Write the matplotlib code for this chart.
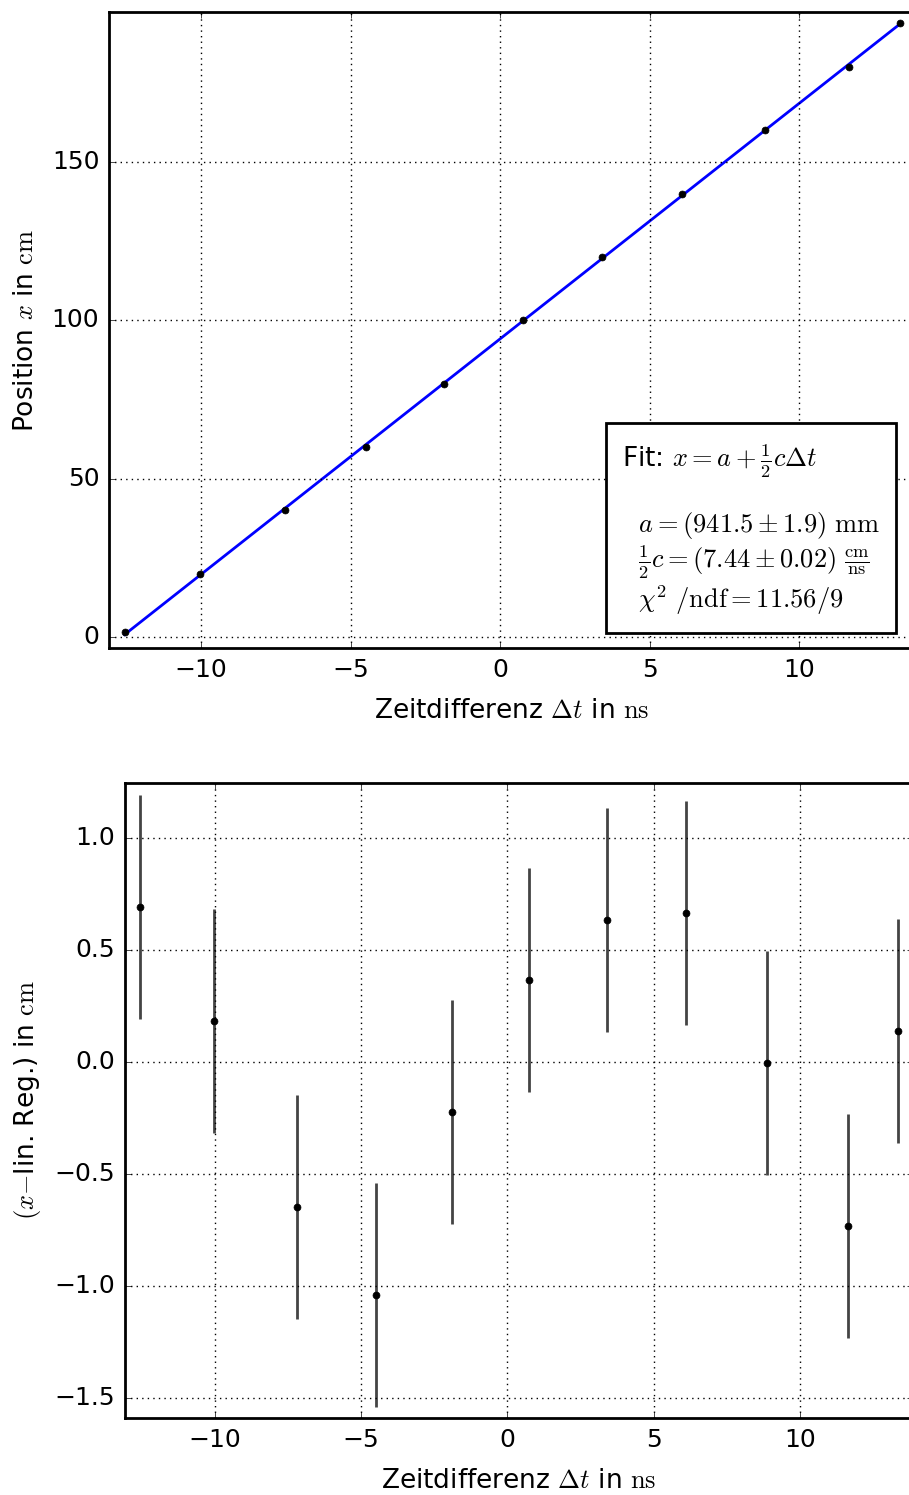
import matplotlib
matplotlib.use('Agg')
import matplotlib.pyplot as plt
import numpy as np

plt.style.use('classic')
plt.rcParams['mathtext.fontset'] = 'cm'
plt.rcParams['font.family'] = 'DejaVu Sans'
plt.rcParams['font.size'] = 18
plt.rcParams['axes.labelsize'] = 19
plt.rcParams['xtick.major.pad'] = 7
plt.rcParams['ytick.major.pad'] = 7

# measured time differences (ns) and positions (cm)
dt = [-12.56, -10.03, -7.20, -4.48, -1.89, 0.75, 3.42, 6.09, 8.86, 11.65, 13.36]
pos = [1.4, 20, 40, 60, 80, 100, 120, 140, 160, 180, 193.8]
# residuals to linear fit (cm) and their errors
resid = [0.692, 0.183, -0.647, -1.04, -0.223, 0.366, 0.634, 0.665, -0.004, -0.732, 0.138]
resid_err = [0.5] * 11
# fit parameters
a_cm = 94.15
half_c = 7.44

fig = plt.figure(figsize=(9.09, 14.95), dpi=100)
fig.patch.set_facecolor('white')

# upper plot: data + fit
ax1 = fig.add_axes([0.1199, 0.5666, 0.8867, 0.4254])
t_fit = np.array([dt[0], dt[-1]])
ax1.plot(t_fit, a_cm + half_c * t_fit, 'b-', lw=2)
ax1.plot(dt, pos, 'ko', ms=5)
ax1.set_xlim(-13.08, 13.87)
ax1.set_ylim(-3.5, 197.4)
ax1.set_yticks([0, 50, 100, 150])
ax1.set_xticks([-10, -5, 0, 5, 10])
ax1.grid(True, color='k', linestyle=':', lw=1)
ax1.set_xlabel(r'Zeitdifferenz $\Delta t$ in $\mathrm{ns}$', labelpad=12)
ax1.set_ylabel(r'Position $x$ in $\mathrm{cm}$', labelpad=9)
for s in ax1.spines.values():
    s.set_linewidth(2)

txt = ('Fit: $x=a+\\frac{1}{2}c\\Delta t$\n\n'
       '  $a=(941.5\\pm1.9)\\ \\mathrm{mm}$\n'
       '  $\\frac{1}{2}c=(7.44\\pm0.02)\\ \\frac{\\mathrm{cm}}{\\mathrm{ns}}$\n'
       '  $\\chi^2\\ /\\mathrm{ndf}=11.56/9$')
ax1.text(4.08, 6.3, txt, fontsize=19,
         va='bottom', ha='left', linespacing=1.1,
         bbox=dict(boxstyle='square,pad=0.6', fc='white', ec='k', lw=2))

# lower plot: residuals
ax2 = fig.add_axes([0.1375, 0.0515, 0.8669, 0.4248])
ax2.errorbar(dt, resid, yerr=resid_err, fmt='ko', ms=5, ecolor='#444444',
             elinewidth=2, capsize=0)
ax2.set_xlim(-13.08, 13.87)
ax2.set_ylim(-1.59, 1.245)
ax2.set_xticks([-10, -5, 0, 5, 10])
ax2.set_yticks([-1.5, -1.0, -0.5, 0.0, 0.5, 1.0])
ax2.grid(True, color='k', linestyle=':', lw=1)
ax2.set_xlabel(r'Zeitdifferenz $\Delta t$ in $\mathrm{ns}$', labelpad=12)
ax2.set_ylabel(r'$(x{-}$lin. Reg.) in $\mathrm{cm}$', labelpad=8)
for s in ax2.spines.values():
    s.set_linewidth(2)

fig.savefig('out.png', dpi=100, facecolor='white')
